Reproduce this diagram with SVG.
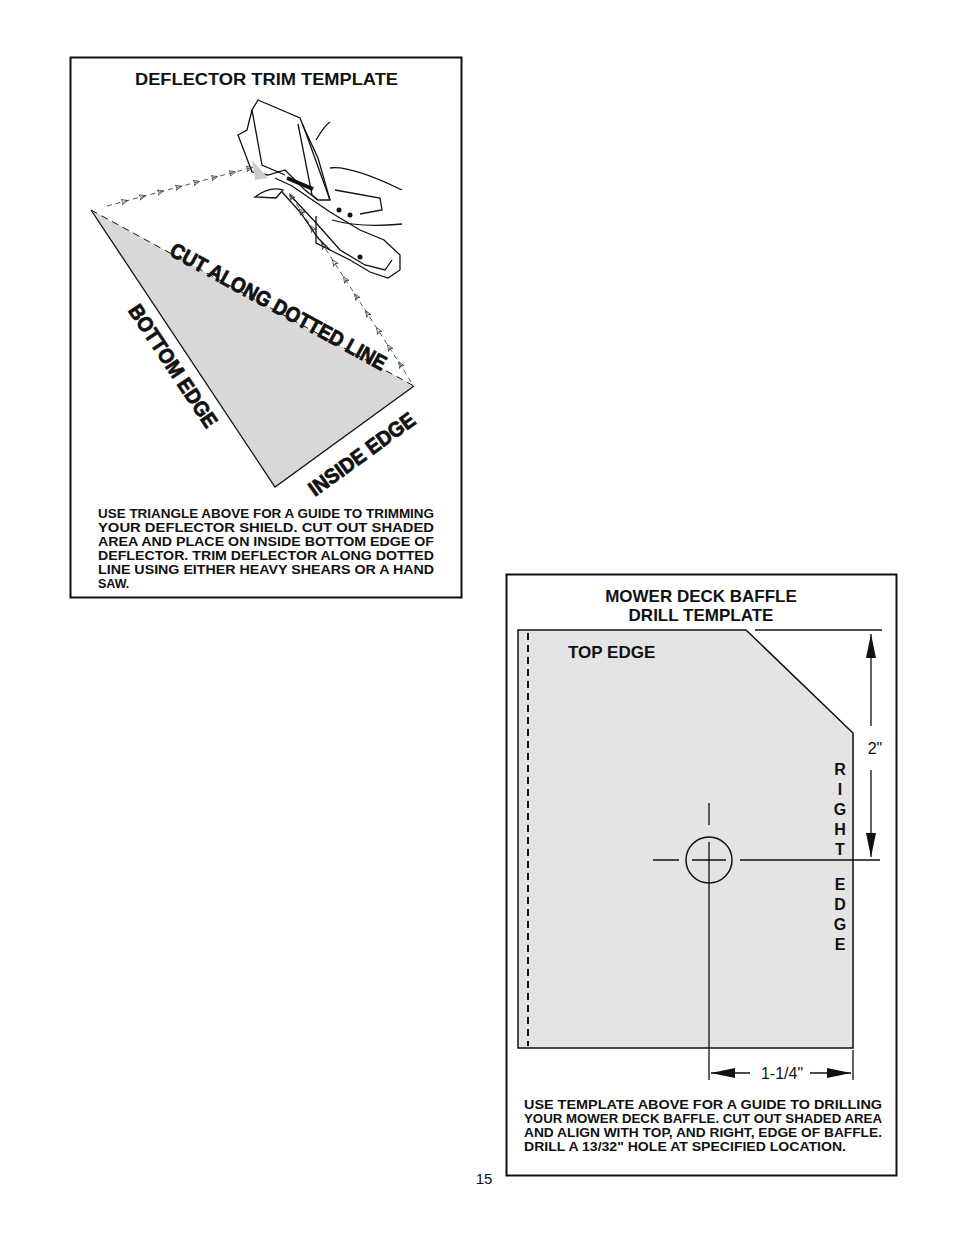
<svg xmlns="http://www.w3.org/2000/svg" width="954" height="1235" viewBox="0 0 954 1235">
<style>
text{font-family:"Liberation Sans",Arial,sans-serif;fill:#111}
.b{font-weight:bold}
.p{font-size:12.5px;font-weight:bold}
.ln{stroke:#111;fill:none;stroke-width:1.3}
.big{font-size:21px;font-weight:bold;stroke:#111;stroke-width:0.8}
</style>
<defs>
<marker id="chev" markerWidth="8" markerHeight="8" refX="4" refY="4" orient="auto"><path d="M0,1 L7,4 L0,7 L2,4 Z" fill="none" stroke="#333" stroke-width="0.8"/></marker>
<marker id="arL" markerWidth="24" markerHeight="12" refX="24" refY="6" orient="auto" markerUnits="userSpaceOnUse"><path d="M0,1 L24,6 L0,11 Z" fill="#111"/></marker>
</defs>
<rect width="954" height="1235" fill="#fff"/>
<g id="deflector-template">
<rect x="70.5" y="57.5" width="391" height="540" fill="none" stroke="#111" stroke-width="2"/>
<text x="135" y="85" class="b" font-size="16" textLength="263" lengthAdjust="spacingAndGlyphs">DEFLECTOR TRIM TEMPLATE</text>
<polygon points="91,210 414,386 275,487" fill="#d8d8d8"/>
<path class="ln" d="M91,210 L275,487 L414,386"/>
<path d="M91,210 L414,386" stroke="#111" stroke-width="1" stroke-dasharray="7,5"/>
</g>
<g id="mower">
<path class="ln" d="M238,135 L247,130 L252,110 L258,100 L300,118 L304,128 L318,158 L330,200 L318,200 L305,190 L285,170 L268,175 L252,172 Z" fill="#fff"/>
<path class="ln" d="M252,110 L262,165 L285,175"/>
<path class="ln" d="M298,124 L312,195 L318,200"/>
<path class="ln" d="M303,125 L330,200"/>
<path class="ln" d="M316,140 Q325,125 330,122"/>
<path d="M252,160 L268,178 L255,180 Z" fill="#ccc"/>
<path class="ln" d="M275,178 L292,186 L330,212 L360,230 L384,240 L400,255 L400,270 L388,278 L370,272 L350,260 L330,250 L318,238 L300,212 L282,192"/>
<path class="ln" d="M290,195 L318,225 L340,250 L365,265 L385,270 L392,260"/>
<path class="ln" d="M316,216 L316,243 L330,250"/>
<path class="ln" d="M255,197 Q270,186 283,190 L276,198 Z"/>
<path class="ln" d="M335,190 L380,198 L382,210 L360,214"/>
<path class="ln" d="M332,220 Q360,228 402,224"/>
<path class="ln" d="M330,168 Q350,165 402,190"/>
<path d="M287,178 L313,189" stroke="#111" stroke-width="4"/>
<circle cx="339" cy="210" r="2.5" fill="#111"/><circle cx="350" cy="215" r="2.5" fill="#111"/><circle cx="360" cy="257" r="2.5" fill="#111"/>
</g>
<g id="connectors">
<path d="M107,206 L125,201.2 L143,196.5 L161,191.7 L179,186.9 L197,182.1 L215,177.3 L233,172.5 L250,168" fill="none" stroke="#444" stroke-width="0.9" stroke-dasharray="5,4" marker-mid="url(#chev)" marker-end="url(#chev)"/>
<path d="M411,382 L400,364 L389,347 L378,330 L367,313 L356,296 L345,279 L334,262 L323,245 L312,228 L301,211 L291,196" fill="none" stroke="#444" stroke-width="0.9" stroke-dasharray="5,4" marker-mid="url(#chev)" marker-end="url(#chev)"/>
</g>
<g id="labels-left">
<text class="big" transform="translate(275,313) rotate(28.6)" text-anchor="middle" textLength="243" lengthAdjust="spacingAndGlyphs">CUT ALONG DOTTED LINE</text>
<text class="big" transform="translate(167,370) rotate(56.4)" text-anchor="middle" textLength="143" lengthAdjust="spacingAndGlyphs">BOTTOM EDGE</text>
<text class="big" transform="translate(366,460) rotate(-36)" text-anchor="middle" textLength="126" lengthAdjust="spacingAndGlyphs">INSIDE EDGE</text>
<text class="p" x="98" y="518" textLength="336" lengthAdjust="spacingAndGlyphs">USE TRIANGLE ABOVE FOR A GUIDE TO TRIMMING</text>
<text class="p" x="98" y="532" textLength="336" lengthAdjust="spacingAndGlyphs">YOUR DEFLECTOR SHIELD. CUT OUT SHADED</text>
<text class="p" x="98" y="546" textLength="336" lengthAdjust="spacingAndGlyphs">AREA AND PLACE ON INSIDE BOTTOM EDGE OF</text>
<text class="p" x="98" y="560" textLength="336" lengthAdjust="spacingAndGlyphs">DEFLECTOR. TRIM DEFLECTOR ALONG DOTTED</text>
<text class="p" x="98" y="574" textLength="336" lengthAdjust="spacingAndGlyphs">LINE USING EITHER HEAVY SHEARS OR A HAND</text>
<text class="p" x="98" y="588">SAW.</text>
</g>
<g id="baffle-template">
<rect x="506.5" y="574.5" width="390" height="601" fill="none" stroke="#111" stroke-width="2"/>
<text x="701" y="602" text-anchor="middle" class="b" font-size="17">MOWER DECK BAFFLE</text>
<text x="701" y="621" text-anchor="middle" class="b" font-size="17">DRILL TEMPLATE</text>
<polygon points="518,630 746,630 853,733 853,1048 518,1048" fill="#e4e4e4" stroke="#111" stroke-width="1.5"/>
<path d="M528,633 L528,1046" stroke="#111" stroke-width="2" stroke-dasharray="7,5"/>
<text x="568" y="658" class="b" font-size="17">TOP EDGE</text>
<g class="b" font-size="16" text-anchor="middle">
<text x="840" y="775">R</text><text x="840" y="795">I</text><text x="840" y="815">G</text><text x="840" y="835">H</text><text x="840" y="855">T</text>
<text x="840" y="890">E</text><text x="840" y="910">D</text><text x="840" y="930">G</text><text x="840" y="950">E</text>
</g>
<circle cx="709" cy="860" r="23" fill="none" stroke="#111" stroke-width="1.5"/>
<path class="ln" d="M709,803 L709,825 M709,842 L709,1080 M653,860 L679,860 M692,860 L726,860 M740,860 L880,860 M755,630 L882,630 M853,1050 L853,1080"/>
</g>
<g id="dimensions">
<path class="ln" d="M871,726 L871,634" marker-end="url(#arL)"/>
<path class="ln" d="M871,770 L871,857" marker-end="url(#arL)"/>
<text x="875" y="754" text-anchor="middle" font-size="16">2"</text>
<path class="ln" d="M750,1073 L711,1073" marker-end="url(#arL)"/>
<path class="ln" d="M810,1073 L851,1073" marker-end="url(#arL)"/>
<text x="782" y="1079" text-anchor="middle" font-size="16">1-1/4"</text>
</g>
<g id="baffle-text">
<text class="p" x="524" y="1109" textLength="358" lengthAdjust="spacingAndGlyphs">USE TEMPLATE ABOVE FOR A GUIDE TO DRILLING</text>
<text class="p" x="524" y="1123" textLength="358" lengthAdjust="spacingAndGlyphs">YOUR MOWER DECK BAFFLE. CUT OUT SHADED AREA</text>
<text class="p" x="524" y="1137" textLength="358" lengthAdjust="spacingAndGlyphs">AND ALIGN WITH TOP, AND RIGHT, EDGE OF BAFFLE.</text>
<text class="p" x="524" y="1151" textLength="322" lengthAdjust="spacingAndGlyphs">DRILL A 13/32" HOLE AT SPECIFIED LOCATION.</text>
</g>
<text x="484" y="1184" text-anchor="middle" font-size="15">15</text>
</svg>
